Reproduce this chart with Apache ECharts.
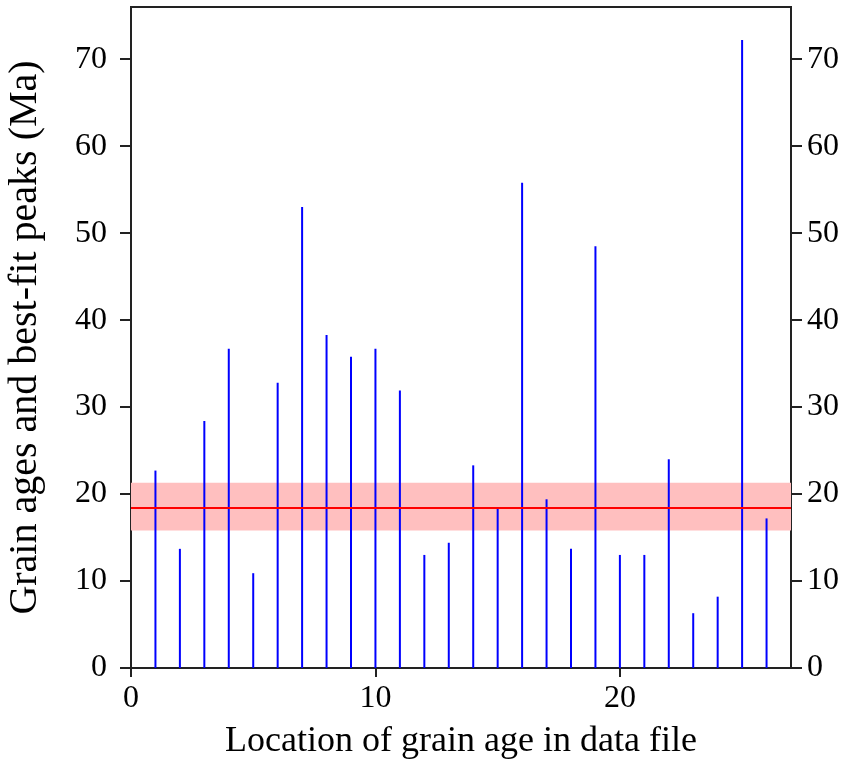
<!DOCTYPE html>
<html>
<head>
<meta charset="utf-8">
<script src="https://cdn.jsdelivr.net/npm/echarts@6/dist/echarts.min.js"></script>
<style>
html,body{margin:0;padding:0;background:#fff;}
#chart{width:851px;height:765px;}
</style>
</head>
<body>
<div id="chart"></div>
<script>
// Data
const grainLocations = [1,2,3,4,5,6,7,8,9,10,11,12,13,14,15,16,17,18,19,20,21,22,23,24,25,26];
const grainAges = [22.7,13.7,28.4,36.7,10.9,32.8,53.0,38.3,35.8,36.7,31.9,13.0,14.4,23.3,18.3,55.8,19.4,13.7,48.5,13.0,13.0,24.0,6.3,8.2,72.2,17.2];
const peakAge = 18.4;
const peakLow = 15.8;
const peakHigh = 21.3;
const xTickValues = [0,10,20];
const yTickValues = [0,10,20,30,40,50,60,70];
const xTitle = 'Location of grain age in data file';
const yTitle = 'Grain ages and best-fit peaks (Ma)';

const font = 'Liberation Serif';
const chart = echarts.init(document.getElementById('chart'), null, {renderer:'canvas'});
const axisLineStyle = {color:'#222', width:2};

chart.setOption({
  animation:false,
  backgroundColor:'#fff',
  grid:{left:131, right:60, top:7, bottom:97, outerBoundsMode:'none', containLabel:false,
        show:true, borderColor:'#222', borderWidth:2, backgroundColor:'transparent'},
  xAxis:{
    type:'value', min:0, max:27,
    name:xTitle, nameLocation:'middle', nameGap:56,
    nameTextStyle:{fontFamily:font, fontSize:36, color:'#000'},
    axisLine:{show:true, onZero:false, lineStyle:axisLineStyle},
    axisTick:{show:true, length:9, lineStyle:axisLineStyle, customValues:xTickValues},
    axisLabel:{fontFamily:font, fontSize:32, color:'#000', margin:15, customValues:xTickValues},
    splitLine:{show:false}
  },
  yAxis:[{
    type:'value', min:0, max:76, position:'left',
    name:yTitle, nameLocation:'middle', nameGap:86,
    nameTextStyle:{fontFamily:font, fontSize:40, color:'#000'},
    axisLine:{show:true, onZero:false, lineStyle:axisLineStyle},
    axisTick:{show:true, length:11, lineStyle:axisLineStyle, customValues:yTickValues},
    axisLabel:{fontFamily:font, fontSize:32, color:'#000', margin:24, customValues:yTickValues},
    splitLine:{show:false}
  },{
    type:'value', min:0, max:76, position:'right',
    axisLine:{show:true, onZero:false, lineStyle:axisLineStyle},
    axisTick:{show:true, length:11, lineStyle:axisLineStyle, customValues:yTickValues},
    axisLabel:{fontFamily:font, fontSize:32, color:'#000', margin:16, customValues:yTickValues},
    splitLine:{show:false}
  }],
  series:[{
    type:'bar',
    data:grainLocations.map((x,i)=>[x, grainAges[i]]),
    barWidth:2,
    itemStyle:{color:'#0000ff'},
    z:3,
    markArea:{
      silent:true,
      itemStyle:{color:'#ffbfbf', opacity:1},
      data:[[{yAxis:peakLow},{yAxis:peakHigh}]]
    },
    markLine:{
      silent:true, symbol:'none',
      label:{show:false},
      lineStyle:{color:'#ff0000', width:2, type:'solid'},
      data:[{yAxis:peakAge}]
    }
  }]
});
</script>
</body>
</html>
